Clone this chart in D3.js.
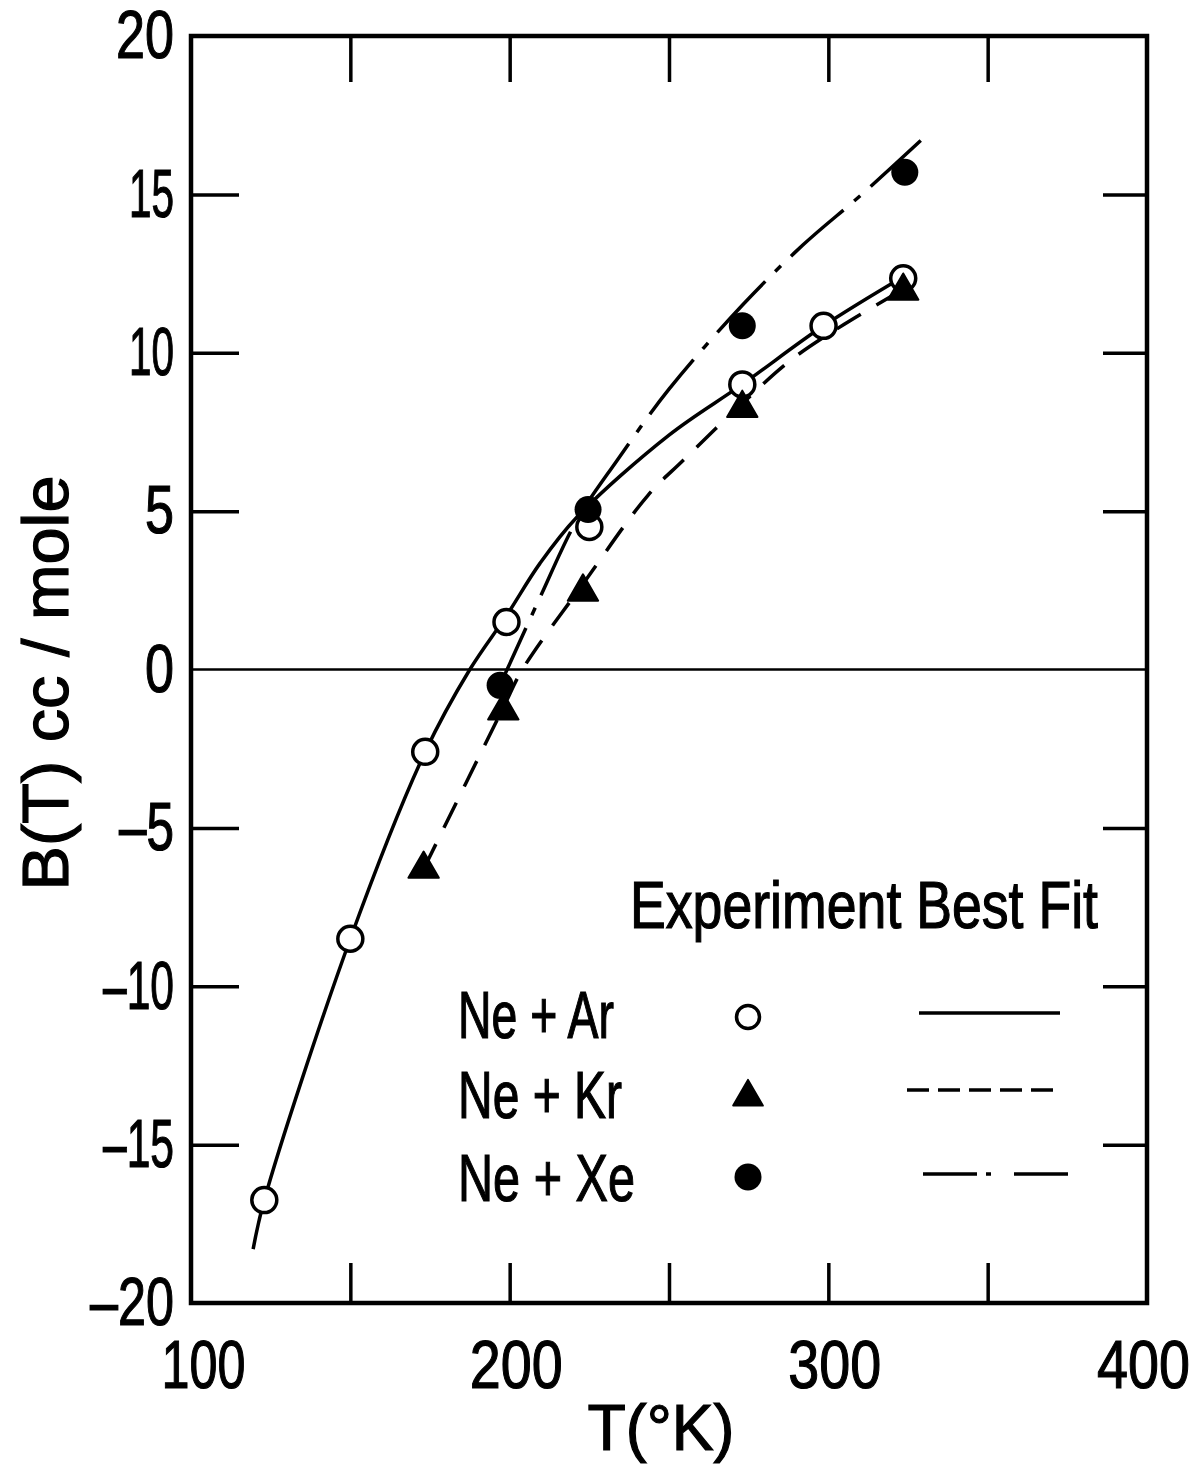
<!DOCTYPE html>
<html>
<head>
<meta charset="utf-8">
<script src="https://cdn.jsdelivr.net/npm/d3@7"></script>
<style>
  body { margin: 0; background: #fff; }
  svg text { font-family: "Liberation Sans", "DejaVu Sans", Arial, sans-serif; fill: #000; stroke: #000; stroke-width: 1.2px; }
</style>
</head>
<body>
<div class="virial"></div>
<script>
// second virial coefficient B(T) of Ne mixtures
// experiment points
const arT = [123, 150, 173.5, 199, 225, 273, 298.5, 323.5];
const arB = [-16.75, -8.5, -2.6, 1.5, 4.5, 9.0, 10.85, 12.35];
const krT = [173, 198, 223, 273, 323.5];
const krB = [-6.3, -1.3, 2.45, 8.25, 11.95];
const xeT = [197, 224.6, 273, 324];
const xeB = [-0.5, 5.05, 10.85, 15.7];

// best fit curves
const arFitT = [119.5, 123, 150, 173.5, 187.5, 199, 209.5, 221, 250, 273, 298.5, 323.5];
const arFitB = [-18.3, -16.75, -8.5, -2.6, 0, 1.7, 3.35, 4.8, 7.4, 9.0, 10.85, 12.4];
const krFitT = [173, 198, 204, 223, 243.4, 254.4, 273, 288, 305, 323.5];
const krFitB = [-6.3, -1.2, 0, 2.7, 5.5, 6.6, 8.4, 9.75, 10.9, 12.0];
const xeFitT = [196, 199.2, 209.5, 221, 233.7, 250, 273, 292, 310.5, 329];
const xeFitB = [-0.7, 0, 2.27, 4.7, 6.6, 8.85, 11.5, 13.4, 15.0, 16.7];

// axis ticks
const xLabelTicks = [100, 200, 300, 400];
const xMinorTicks = [150, 200, 250, 300, 350];
const yTicks = [-20, -15, -10, -5, 0, 5, 10, 15, 20];
const yInnerTicks = [-15, -10, -5, 5, 10, 15];

const legendNames = ['Ne + Ar', 'Ne + Kr', 'Ne + Xe'];

const W = 1200, H = 1464;
const x = d3.scaleLinear().domain([100, 400]).range([191, 1147]);
const y = d3.scaleLinear().domain([-20, 20]).range([1303, 36]);

const svg = d3.select('.virial')
  .append('svg')
  .attr('width', W)
  .attr('height', H)
  .style('background', '#fff');

// rough width of a hand lettered number
function numWidth(s, one, dash, other) {
  let w = 0;
  for (const c of s) w += c === '1' ? one : (c === '-' || c === '\u2212') ? dash : other;
  return w;
}
const fmtY = d => d < 0 ? '\u2013' + Math.abs(d) : String(d);

// y axis with labels, ticks pointing inward
const yAxisG = svg.append('g')
  .attr('transform', `translate(${x(100)},0)`)
  .call(d3.axisLeft(y).tickValues(yTicks).tickSizeInner(0).tickSizeOuter(0).tickPadding(17)
    .tickFormat(fmtY));
yAxisG.selectAll('text')
  .style('font-size', '68px')
  .attr('textLength', d => numWidth(d < 0 ? '-' + Math.abs(d) : String(d), 16, 26, 29))
  .attr('lengthAdjust', 'spacingAndGlyphs');

svg.append('g')
  .attr('transform', `translate(${x(100)},0)`)
  .call(d3.axisLeft(y).tickValues(yInnerTicks).tickSizeInner(-48).tickSizeOuter(0).tickFormat(''));
svg.append('g')
  .attr('transform', `translate(${x(400)},0)`)
  .call(d3.axisRight(y).tickValues(yInnerTicks).tickSizeInner(-44).tickSizeOuter(0).tickFormat(''));

// x axis
const xAxisG = svg.append('g')
  .attr('transform', `translate(0,${y(-20)})`)
  .call(d3.axisBottom(x).tickValues(xLabelTicks).tickSizeInner(0).tickSizeOuter(0).tickPadding(37));
xAxisG.selectAll('text')
  .style('font-size', '68px')
  .attr('dx', d => d === 100 ? 12 : d === 400 ? -4 : 6)
  .attr('textLength', d => numWidth(String(d), 22, 24, 31))
  .attr('lengthAdjust', 'spacingAndGlyphs');

svg.append('g')
  .attr('transform', `translate(0,${y(-20)})`)
  .call(d3.axisBottom(x).tickValues(xMinorTicks).tickSizeInner(-40).tickSizeOuter(0).tickFormat(''));
svg.append('g')
  .attr('transform', `translate(0,${y(20)})`)
  .call(d3.axisTop(x).tickValues(xMinorTicks).tickSizeInner(-46).tickSizeOuter(0).tickFormat(''));

svg.selectAll('.domain').remove();
svg.selectAll('.tick line').attr('stroke', '#000').attr('stroke-width', 3.5);

// frame
svg.append('rect')
  .attr('x', x(100))
  .attr('y', y(20))
  .attr('width', x(400) - x(100))
  .attr('height', y(-20) - y(20))
  .attr('fill', 'none')
  .attr('stroke', '#000')
  .attr('stroke-width', 4.5);

// zero line
svg.append('line')
  .attr('x1', x(100)).attr('x2', x(400))
  .attr('y1', y(0)).attr('y2', y(0))
  .attr('stroke', '#000')
  .attr('stroke-width', 2.5);

// fit curves
const line = d3.line()
  .x(d => x(d[0]))
  .y(d => y(d[1]))
  .curve(d3.curveCatmullRom.alpha(0.5));

svg.append('path')
  .datum(d3.zip(arFitT, arFitB))
  .attr('fill', 'none').attr('stroke', '#000').attr('stroke-width', 3.5)
  .attr('d', line);
svg.append('path')
  .datum(d3.zip(krFitT, krFitB))
  .attr('fill', 'none').attr('stroke', '#000').attr('stroke-width', 3.5)
  .attr('stroke-dasharray', '28,18')
  .attr('d', line);
svg.append('path')
  .datum(d3.zip(xeFitT, xeFitB))
  .attr('fill', 'none').attr('stroke', '#000').attr('stroke-width', 3.5)
  .attr('stroke-dasharray', '70,14,8,14')
  .attr('d', line);

// experiment points
svg.append('g').selectAll('circle')
  .data(d3.zip(arT, arB))
  .enter()
  .append('circle')
  .attr('cx', d => x(d[0]))
  .attr('cy', d => y(d[1]))
  .attr('r', 12.5)
  .attr('fill', '#fff')
  .attr('stroke', '#000')
  .attr('stroke-width', 3.5);

svg.append('g').selectAll('path')
  .data(d3.zip(krT, krB))
  .enter()
  .append('path')
  .attr('transform', d => `translate(${x(d[0])},${y(d[1])})`)
  .attr('d', d3.symbol().type(d3.symbolTriangle).size(400))
  .attr('fill', '#000')
  .attr('stroke', '#000')
  .attr('stroke-width', 2)
  .attr('stroke-linejoin', 'round');

svg.append('g').selectAll('circle')
  .data(d3.zip(xeT, xeB))
  .enter()
  .append('circle')
  .attr('cx', d => x(d[0]))
  .attr('cy', d => y(d[1]))
  .attr('r', 13.5)
  .attr('fill', '#000');

// legend
svg.append('text')
  .text('Experiment Best Fit')
  .attr('x', 630).attr('y', 928)
  .style('font-size', '66px')
  .attr('textLength', 468)
  .attr('lengthAdjust', 'spacingAndGlyphs');

const legRows = [
  {y: 1017, base: 1038, len: 156},
  {y: 1095, base: 1118, len: 164},
  {y: 1177, base: 1201, len: 177}
];
legRows.forEach((r, i) => {
  svg.append('text')
    .text(legendNames[i])
    .attr('x', 458).attr('y', r.base)
    .style('font-size', '66px')
    .attr('textLength', r.len)
    .attr('lengthAdjust', 'spacingAndGlyphs');
});

svg.append('circle')
  .attr('cx', 748).attr('cy', legRows[0].y).attr('r', 11.5)
  .attr('fill', '#fff').attr('stroke', '#000').attr('stroke-width', 3.5);
svg.append('path')
  .attr('transform', `translate(748,${legRows[1].y + 2})`)
  .attr('d', d3.symbol().type(d3.symbolTriangle).size(380))
  .attr('fill', '#000').attr('stroke', '#000').attr('stroke-width', 2).attr('stroke-linejoin', 'round');
svg.append('circle')
  .attr('cx', 748).attr('cy', legRows[2].y).attr('r', 13.5)
  .attr('fill', '#000');

svg.append('line')
  .attr('x1', 919).attr('x2', 1060).attr('y1', 1013).attr('y2', 1013)
  .attr('stroke', '#000').attr('stroke-width', 3.5);
svg.append('line')
  .attr('x1', 907).attr('x2', 1055).attr('y1', 1090).attr('y2', 1090)
  .attr('stroke', '#000').attr('stroke-width', 3.5)
  .attr('stroke-dasharray', '22,9');
svg.append('line')
  .attr('x1', 923).attr('x2', 1068).attr('y1', 1174).attr('y2', 1174)
  .attr('stroke', '#000').attr('stroke-width', 3.5)
  .attr('stroke-dasharray', '54,9,5,23,54');

// axis titles
svg.append('text')
  .text('T(\u00B0K)')
  .attr('x', 661).attr('y', 1450)
  .attr('text-anchor', 'middle')
  .style('font-size', '64px')
  .attr('textLength', 147)
  .attr('lengthAdjust', 'spacingAndGlyphs');

svg.append('text')
  .text('B(T)  cc / mole')
  .attr('transform', 'translate(68,683) rotate(-90)')
  .attr('text-anchor', 'middle')
  .style('font-size', '64px')
  .attr('textLength', 415)
  .attr('lengthAdjust', 'spacingAndGlyphs');
</script>
</body>
</html>
